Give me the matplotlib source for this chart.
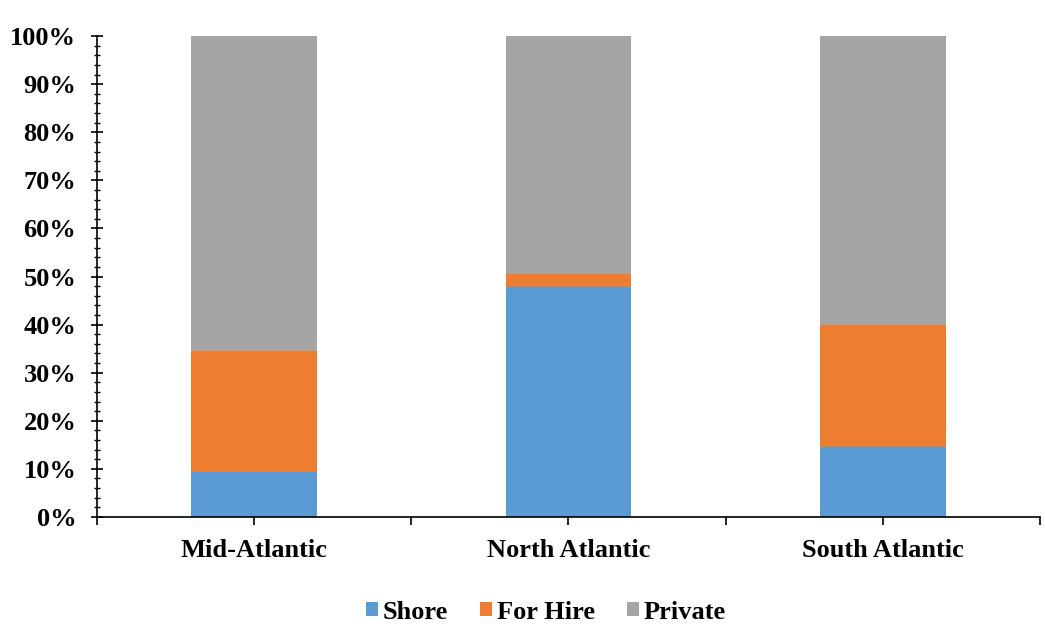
import matplotlib

matplotlib.use('Agg')
import matplotlib.pyplot as plt
import numpy as np
from matplotlib.ticker import FixedLocator, MultipleLocator, PercentFormatter

regions = ['Mid-Atlantic', 'North Atlantic', 'South Atlantic']
shore = [9.3, 47.9, 14.5]
for_hire = [25.3, 2.6, 25.5]
private = [100 - s - f for s, f in zip(shore, for_hire)]

series = [('Shore', shore, '#5B9BD5'),
          ('For Hire', for_hire, '#ED7D31'),
          ('Private', private, '#A5A5A5')]

plt.rcParams['font.family'] = ['Liberation Serif', 'DejaVu Serif']
plt.rcParams['font.weight'] = 'bold'

fig = plt.figure(figsize=(10.45, 6.35), dpi=100)
ax = fig.add_axes([0.093, 0.186, 0.902, 0.757])

x = np.arange(len(regions))
bottom = np.zeros(len(regions))
for name, vals, color in series:
    ax.bar(x, vals, width=0.4, bottom=bottom, color=color, label=name)
    bottom += np.array(vals)

ax.set_xlim(-0.5, 2.5)
ax.set_ylim(0, 100)
ax.yaxis.set_major_locator(MultipleLocator(10))
ax.yaxis.set_minor_locator(MultipleLocator(2))
ax.yaxis.set_major_formatter(PercentFormatter(decimals=0))
ax.set_xticks(x)
ax.set_xticklabels(regions)
ax.xaxis.set_minor_locator(FixedLocator([-0.5, 0.5, 1.5, 2.5]))

for side in ['top', 'right']:
    ax.spines[side].set_visible(False)
ax.spines['left'].set_linewidth(1.2)
ax.spines['bottom'].set_linewidth(1.2)

ax.tick_params(axis='y', which='major', direction='inout', length=8, width=1.2,
               labelsize=19, pad=11)
ax.tick_params(axis='y', which='minor', direction='inout', length=5, width=1)
ax.tick_params(axis='x', which='both', direction='out', length=6, width=1.2,
               labelsize=19, pad=10)

ax.legend(loc='upper center', bbox_to_anchor=(0.476, -0.125), ncol=3, frameon=False,
          fontsize=19, handlelength=0.45, handleheight=0.45, handletextpad=0.2,
          columnspacing=1.2)

fig.savefig('out.png', dpi=100)
plt.close(fig)
